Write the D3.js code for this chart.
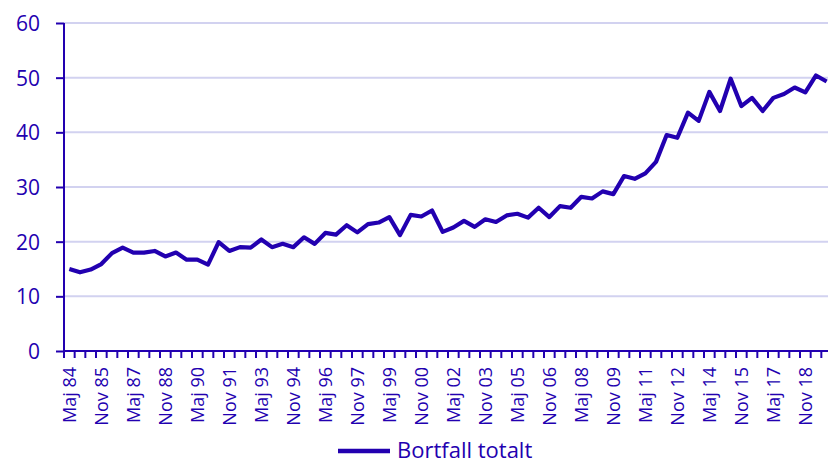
<!DOCTYPE html>
<html><head><meta charset="utf-8">
<script src="https://cdn.jsdelivr.net/npm/d3@7"></script>
<style>
html,body{margin:0;padding:0;background:#fff;}
svg{display:block;font-family:"Open Sans",sans-serif;}
</style></head>
<body><svg id="c" width="828" height="462"></svg>
<script>
const categories = [
"Maj 84","Nov 84","Maj 85","Nov 85","Maj 86","Nov 86","Maj 87","Nov 87","Maj 88","Nov 88",
"Maj 89","Nov 89","Maj 90","Nov 90","Maj 91","Nov 91","Maj 92","Nov 92","Maj 93","Nov 93",
"Maj 94","Nov 94","Maj 95","Nov 95","Maj 96","Nov 96","Maj 97","Nov 97","Maj 98","Nov 98",
"Maj 99","Nov 99","Maj 00","Nov 00","Maj 01","Nov 01","Maj 02","Nov 02","Maj 03","Nov 03",
"Maj 04","Nov 04","Maj 05","Nov 05","Maj 06","Nov 06","Maj 07","Nov 07","Maj 08","Nov 08",
"Maj 09","Nov 09","Maj 10","Nov 10","Maj 11","Nov 11","Maj 12","Nov 12","Maj 13","Nov 13",
"Maj 14","Nov 14","Maj 15","Nov 15","Maj 16","Nov 16","Maj 17","Nov 17","Maj 18","Nov 18",
"Maj 19","Nov 19"];
const bortfallTotalt = [
15.0,14.4,14.9,15.9,17.9,18.9,18.0,18.0,18.3,17.3,
18.0,16.7,16.7,15.8,19.9,18.3,19.0,18.9,20.4,19.0,
19.6,19.0,20.8,19.6,21.6,21.3,23.0,21.7,23.2,23.5,
24.5,21.2,24.9,24.6,25.7,21.8,22.6,23.8,22.7,24.1,
23.6,24.8,25.1,24.4,26.2,24.5,26.5,26.2,28.2,27.9,
29.2,28.7,32.0,31.5,32.5,34.6,39.5,39.0,43.6,42.1,
47.4,43.9,49.8,44.8,46.3,43.9,46.3,47.0,48.2,47.3,
50.4,49.3];
const xTickLabels = ["Maj 84","Nov 85","Maj 87","Nov 88","Maj 90","Nov 91","Maj 93","Nov 94",
"Maj 96","Nov 97","Maj 99","Nov 00","Maj 02","Nov 03","Maj 05","Nov 06","Maj 08","Nov 09",
"Maj 11","Nov 12","Maj 14","Nov 15","Maj 17","Nov 18"];
const yTicks = [0,10,20,30,40,50,60];
const seriesName = "Bortfall totalt";

const C = "#2200b0", GRID = "#d2d2f0";
const svg = d3.select("#c");
const L = 64, R = 832, T = 23, B = 351;
const x = d3.scaleBand().domain(categories).range([L, R]).padding(0);
const y = d3.scaleLinear().domain([0, 60]).range([B, T]);

// grid
svg.append("g").selectAll("line").data(yTicks.filter(d => d > 0)).join("line")
  .attr("x1", L).attr("x2", R).attr("y1", d => y(d)).attr("y2", d => y(d))
  .attr("stroke", GRID).attr("stroke-width", 2);

// y axis
const ya = svg.append("g").attr("transform", `translate(${L},0)`)
  .call(d3.axisLeft(y).tickValues(yTicks).tickSize(8).tickPadding(16).tickFormat(d3.format("d")));
ya.select(".domain").remove();
ya.selectAll(".tick line").attr("stroke", C).attr("stroke-width", 2);
ya.selectAll(".tick text").attr("fill", C).attr("font-size", 21).attr("font-family", "Open Sans").attr("dy", "0.36em");
svg.append("line").attr("x1", L).attr("x2", L).attr("y1", T).attr("y2", B + 7)
  .attr("stroke", C).attr("stroke-width", 2);

// x axis line + boundary ticks
svg.append("line").attr("x1", L).attr("x2", R).attr("y1", B).attr("y2", B)
  .attr("stroke", C).attr("stroke-width", 2);
const bounds = categories.map(c => x(c)).concat([x(categories[categories.length - 1]) + x.bandwidth()]);
svg.append("g").selectAll("line").data(bounds).join("line")
  .attr("x1", d => d).attr("x2", d => d).attr("y1", B).attr("y2", B + 7)
  .attr("stroke", C).attr("stroke-width", 2);

// x labels
const xa = svg.append("g").attr("transform", `translate(0,${B})`)
  .call(d3.axisBottom(x).tickValues(xTickLabels).tickSize(0));
xa.select(".domain").remove();
xa.selectAll(".tick text")
  .attr("fill", C).attr("font-size", 18).attr("font-family", "Open Sans")
  .attr("text-anchor", "end")
  .attr("transform", "rotate(-90)")
  .attr("x", -16).attr("y", 0).attr("dy", "0.36em");

// line
svg.append("path").datum(bortfallTotalt)
  .attr("fill", "none").attr("stroke", C).attr("stroke-width", 4.2)
  .attr("stroke-linejoin", "round")
  .attr("d", d3.line().x((d, i) => x(categories[i]) + x.bandwidth() / 2).y(d => y(d)));

// legend
svg.append("line").attr("x1", 338).attr("x2", 390).attr("y1", 451).attr("y2", 451)
  .attr("stroke", C).attr("stroke-width", 4.5);
svg.append("text").attr("x", 397).attr("y", 457.5).attr("fill", C)
  .attr("font-size", 22).attr("font-family", "Open Sans").text(seriesName);
</script>
</body></html>
